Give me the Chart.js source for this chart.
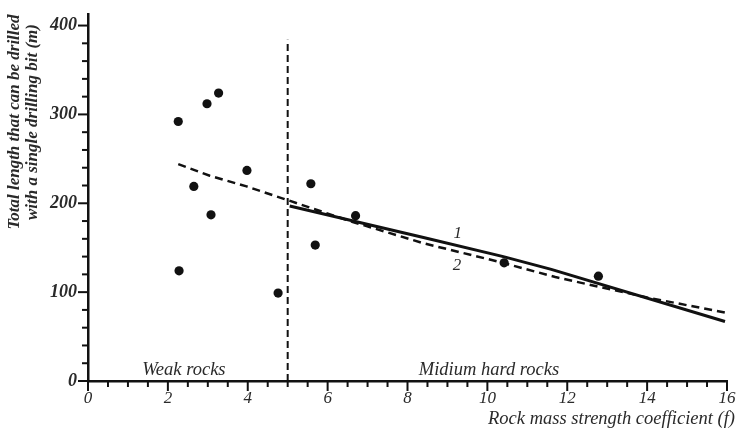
<!DOCTYPE html>
<html>
<head>
<meta charset="utf-8">
<script src="https://cdn.jsdelivr.net/npm/chart.js@4"></script>
<style>
  html, body { margin: 0; padding: 0; background: #fff; }
  #wrap { width: 737px; height: 432px; }
</style>
</head>
<body>
<div id="wrap"><canvas id="chart" width="737" height="432"></canvas></div>
<script>
// measured points: rock strength f vs drilled length (m)
const pointF = [2.26, 2.98, 3.27, 2.65, 3.98, 3.08, 2.28, 4.76, 5.58, 5.69, 6.70, 10.42, 12.78];
const pointL = [292, 312, 324, 219, 237, 187, 124, 99, 222, 153, 186, 133, 118];

// curve 1 (solid, medium hard rocks)
const curve1F = [5.05, 8.4, 10.4, 11.6, 15.95];
const curve1L = [197, 161.5, 140, 125.6, 67];

// curve 2 (dashed, all rocks)
const curve2F = [2.26, 3.05, 3.97, 4.97, 6.63, 8.4, 10.3, 11.7, 14, 15.95];
const curve2L = [244, 231, 219, 204, 179, 155, 134, 117, 94, 77];

// boundary between weak and medium hard rocks
const boundaryF = [5, 5];
const boundaryL = [0, 384];

const xLabels = [0, 2, 4, 6, 8, 10, 12, 14, 16];
const yLabels = [0, 100, 200, 300, 400];

const FONT = "'Liberation Serif', 'DejaVu Serif', serif";
const INK = "#111";
const TEXT = "#2a2a2a";

function toXY(xs, ys) {
  return xs.map((v, i) => ({ x: v, y: ys[i] }));
}

// tick marks + free text drawn on top of the scales
const decor = {
  id: "decor",
  afterDraw(chart) {
    const { ctx, chartArea, scales } = chart;
    const x = scales.x, y = scales.y;
    ctx.save();
    ctx.strokeStyle = INK;
    ctx.lineWidth = 2;
    // x ticks every 0.5
    for (let v = 0; v <= 16; v += 0.5) {
      const px = x.getPixelForValue(v);
      const len = xLabels.includes(v) ? 10 : 6;
      ctx.beginPath();
      ctx.moveTo(px, chartArea.bottom);
      ctx.lineTo(px, chartArea.bottom + len);
      ctx.stroke();
    }
    // y ticks every 20
    for (let v = 0; v <= 400; v += 20) {
      const py = y.getPixelForValue(v);
      const len = yLabels.includes(v) ? 10 : 6;
      ctx.beginPath();
      ctx.moveTo(chartArea.left, py);
      ctx.lineTo(chartArea.left - len, py);
      ctx.stroke();
    }

    ctx.fillStyle = TEXT;
    ctx.textBaseline = "middle";
    ctx.textAlign = "center";
    ctx.font = "italic 18.5px " + FONT;
    ctx.fillText("Weak rocks", x.getPixelForValue(2.4), y.getPixelForValue(12.5));
    ctx.fillText("Midium hard rocks", x.getPixelForValue(10.04), y.getPixelForValue(12.5));
    ctx.font = "italic 17px " + FONT;
    ctx.fillText("1", x.getPixelForValue(9.26), y.getPixelForValue(166));
    ctx.fillText("2", x.getPixelForValue(9.24), y.getPixelForValue(130));

    ctx.textAlign = "right";
    ctx.font = "italic 18.5px " + FONT;
    ctx.fillText("Rock mass strength coefficient (f)", 735, 419);

    // two-line y title
    ctx.translate(24, 122);
    ctx.rotate(-Math.PI / 2);
    ctx.textAlign = "center";
    ctx.font = "italic bold 17px " + FONT;
    ctx.fillText("Total length that can be drilled", 0, -9);
    ctx.fillText("with a single drilling bit (m)", 0, 9);
    ctx.restore();
  }
};

const ctx = document.getElementById("chart");
const chart = new Chart(ctx, {
  type: "scatter",
  data: {
    datasets: [
      {
        label: "boundary",
        data: toXY(boundaryF, boundaryL),
        showLine: true,
        borderColor: INK,
        borderWidth: 2,
        borderDash: [7, 4],
        pointRadius: 0
      },
      {
        label: "2",
        data: toXY(curve2F, curve2L),
        showLine: true,
        borderColor: INK,
        borderWidth: 2.5,
        borderDash: [8, 5],
        pointRadius: 0
      },
      {
        label: "1",
        data: toXY(curve1F, curve1L),
        showLine: true,
        borderColor: INK,
        borderWidth: 3,
        pointRadius: 0
      },
      {
        label: "measured",
        data: toXY(pointF, pointL),
        backgroundColor: INK,
        borderColor: INK,
        pointRadius: 4.6,
        borderWidth: 0
      }
    ]
  },
  options: {
    responsive: false,
    animation: false,
    layout: { padding: { top: 14, right: 10, left: 0, bottom: 0 } },
    plugins: {
      legend: { display: false },
      tooltip: { enabled: false }
    },
    scales: {
      x: {
        type: "linear",
        min: 0,
        max: 16,
        afterBuildTicks: (scale) => {
          scale.ticks = xLabels.map((v) => ({ value: v }));
        },
        afterFit: (scale) => {
          scale.height = 51;
          scale.paddingLeft = 0;
          scale.paddingRight = 0;
        },
        grid: { drawOnChartArea: false, drawTicks: false },
        border: { color: INK, width: 2.5 },
        ticks: {
          padding: 7,
          color: TEXT,
          font: { family: FONT, size: 17, style: "italic" }
        }
      },
      y: {
        type: "linear",
        min: 0,
        max: 413,
        afterBuildTicks: (scale) => {
          scale.ticks = yLabels.map((v) => ({ value: v }));
        },
        afterFit: (scale) => {
          scale.width = 88;
          scale.paddingTop = 0;
          scale.paddingBottom = 0;
        },
        grid: { drawOnChartArea: false, drawTicks: false },
        border: { color: INK, width: 2.5 },
        ticks: {
          padding: 11,
          color: TEXT,
          font: { family: FONT, size: 18, style: "italic", weight: "bold" }
        }
      }
    }
  },
  plugins: [decor]
});
</script>
</body>
</html>
